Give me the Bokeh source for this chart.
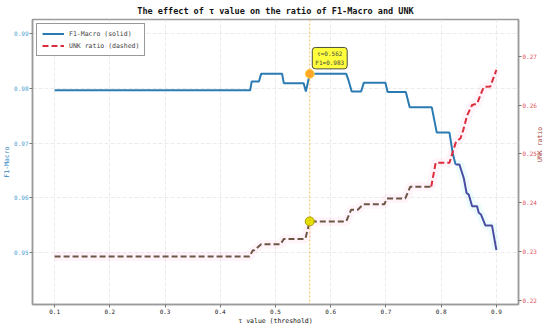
import math
from bokeh.plotting import figure
from bokeh.models import Range1d, LinearAxis, FixedTicker, Span, Label, Legend, LegendItem
from bokeh.embed import file_html
from bokeh.resources import INLINE

# ---- data ----
tau_f1 = [0.100, 0.454, 0.457, 0.470, 0.474, 0.512, 0.515, 0.551, 0.555, 0.562,
          0.628, 0.632, 0.638, 0.655, 0.660, 0.699, 0.703, 0.736, 0.743, 0.783,
          0.792, 0.815, 0.821, 0.826, 0.833, 0.841, 0.846, 0.850, 0.856, 0.865,
          0.868, 0.872, 0.880, 0.892, 0.900]
f1_macro = [0.9796, 0.9796, 0.9812, 0.9812, 0.9826, 0.9826, 0.9809, 0.9809, 0.9794, 0.9826,
            0.9826, 0.9815, 0.9794, 0.9794, 0.9810, 0.9810, 0.9793, 0.9793, 0.9765, 0.9765,
            0.9719, 0.9719, 0.9681, 0.9661, 0.9661, 0.9636, 0.9609, 0.9606, 0.9585, 0.9585,
            0.9573, 0.9570, 0.9550, 0.9550, 0.9505]

tau_unk = [0.100, 0.453, 0.459, 0.462, 0.474, 0.509, 0.515, 0.554, 0.562, 0.628,
           0.637, 0.649, 0.659, 0.697, 0.702, 0.735, 0.744, 0.782, 0.790, 0.815,
           0.822, 0.827, 0.835, 0.840, 0.847, 0.856, 0.865, 0.871, 0.877, 0.889,
           0.900]
unk_ratio = [0.2290, 0.2290, 0.2303, 0.2303, 0.2315, 0.2315, 0.2326, 0.2326, 0.2362, 0.2362,
             0.2386, 0.2386, 0.2397, 0.2397, 0.2409, 0.2409, 0.2433, 0.2433, 0.2482, 0.2482,
             0.2508, 0.2525, 0.2532, 0.2549, 0.2579, 0.2600, 0.2603, 0.2620, 0.2637, 0.2638,
             0.2672]

x_ticks = [0.1, 0.2, 0.3, 0.4, 0.5, 0.6, 0.7, 0.8, 0.9]
f1_ticks = [0.95, 0.96, 0.97, 0.98, 0.99]
unk_ticks = [0.22, 0.23, 0.24, 0.25, 0.26, 0.27]

best_tau = 0.562
best_f1 = 0.9826
best_unk = 0.2362

f1_split = 0.826    # colour change of the F1 curve
unk_split = 0.782   # colour change of the UNK curve

FONT = "DejaVu Sans Mono"
X0, X1 = 0.06, 0.94
U0, U1 = 0.2192, 0.2775

p = figure(width=550, height=327,
           x_range=Range1d(X0, X1), y_range=Range1d(0.9406, 0.9925),
           output_backend="svg", toolbar_location=None,
           min_border_left=26, min_border_right=26, min_border_top=19, min_border_bottom=18,
           title="The effect of τ value on the ratio of F1-Macro and UNK")
p.extra_y_ranges = {"unk": Range1d(U0, U1)}
p.border_fill_color = "white"

p.title.text_font = FONT
p.title.text_font_size = "8.5px"
p.title.text_font_style = "bold"
p.title.align = "center"
p.title.text_color = "#111111"
p.title.standoff = 7

p.outline_line_color = "#9a9a9a"
p.outline_line_width = 1.5
p.background_fill_color = "white"

def style_axis(ax, label_color, tick_color):
    ax.major_label_text_font = FONT
    ax.major_label_text_font_size = "6px"
    ax.major_label_text_color = tick_color
    ax.axis_label_text_font = FONT
    ax.axis_label_text_font_size = "6.5px"
    ax.axis_label_text_font_style = "normal"
    ax.axis_label_text_color = label_color
    ax.axis_label_standoff = 0
    ax.major_label_standoff = 1
    ax.major_tick_out = 3
    ax.major_tick_in = 0
    ax.minor_tick_out = 0
    ax.minor_tick_in = 0
    ax.axis_line_color = "#9a9a9a"
    ax.axis_line_width = 1.5
    ax.major_tick_line_color = "#777777"

xa = p.below[0]
xa.ticker = FixedTicker(ticks=x_ticks)
xa.axis_label = "τ value (threshold)"
style_axis(xa, "#111111", "#222222")

ya = p.left[0]
ya.ticker = FixedTicker(ticks=f1_ticks)
ya.axis_label = "F1-Macro"
style_axis(ya, "#2f86c0", "#4a9ed2")

ra = LinearAxis(y_range_name="unk", ticker=FixedTicker(ticks=unk_ticks), axis_label="UNK ratio")
style_axis(ra, "#a8443c", "#e0505a")
try:
    ra.axis_label_orientation = math.pi / 2   # read bottom-to-top like the reference
except AttributeError:
    pass
p.add_layout(ra, "right")

p.xgrid.ticker = FixedTicker(ticks=x_ticks)
p.ygrid.ticker = FixedTicker(ticks=f1_ticks)
for g in (p.xgrid, p.ygrid):
    g.grid_line_color = "#e6e6e6"
    g.grid_line_dash = "4 2"
    g.grid_line_width = 0.8

def split(xs, ys, cut):
    lo = [(x, y) for x, y in zip(xs, ys) if x <= cut]
    hi = [(x, y) for x, y in zip(xs, ys) if x >= cut]
    return ([a for a, _ in lo], [b for _, b in lo]), ([a for a, _ in hi], [b for _, b in hi])

(f1x_lo, f1y_lo), (f1x_hi, f1y_hi) = split(tau_f1, f1_macro, f1_split)
(ux_lo, uy_lo), (ux_hi, uy_hi) = split(tau_unk, unk_ratio, unk_split)

# soft glow behind the curves
p.line(tau_unk, unk_ratio, y_range_name="unk", line_width=9, line_color="#ff8fc0", line_alpha=0.10)
p.line(f1x_hi, f1y_hi, line_width=9, line_color="#70e0f0", line_alpha=0.12)

f1_lo_r = p.line(f1x_lo, f1y_lo, line_width=2, line_color="#2b7bb3")
p.line(f1x_hi, f1y_hi, line_width=2, line_color="#4a4ea3")

p.line(ux_lo, uy_lo, y_range_name="unk", line_width=2, line_color="#6e5646", line_dash="6 3")
unk_hi_r = p.line(ux_hi, uy_hi, y_range_name="unk", line_width=2, line_color="#dc2d3c", line_dash="6 3")

p.add_layout(Span(location=best_tau, dimension="height", line_color="#f5a623",
                  line_dash="2 2", line_width=1, line_alpha=0.75))

p.scatter([best_tau], [best_f1], size=9, fill_color="#ffa726", line_color="#ffd54f", line_width=1)
p.scatter([best_tau], [best_unk], y_range_name="unk", size=9, fill_color="#e3e000",
          line_color="#a89c00", line_width=1)

p.add_layout(Label(x=best_tau, y=best_f1, x_offset=20, y_offset=5,
                   text=f"τ={best_tau:.3f}\nF1={best_f1:.3f}",
                   text_font=FONT, text_font_size="6px", text_align="center",
                   text_baseline="bottom",
                   background_fill_color="#ffff33", background_fill_alpha=0.95,
                   border_line_color="#222222", border_line_width=0.8,
                   padding=3, border_radius=3))

legend = Legend(items=[LegendItem(label="F1-Macro (solid)", renderers=[f1_lo_r]),
                       LegendItem(label="UNK ratio (dashed)", renderers=[unk_hi_r])],
                location="top_left")
legend.label_text_font = FONT
legend.label_text_font_size = "6.5px"
legend.label_height = 9
legend.glyph_height = 9
legend.glyph_width = 22
legend.label_standoff = 5
legend.spacing = 3
legend.padding = 5
legend.margin = 4
legend.border_line_color = "#333333"
legend.border_line_width = 1
legend.background_fill_alpha = 0.95
p.add_layout(legend)

open("out.html", "w").write(file_html(p, INLINE))
